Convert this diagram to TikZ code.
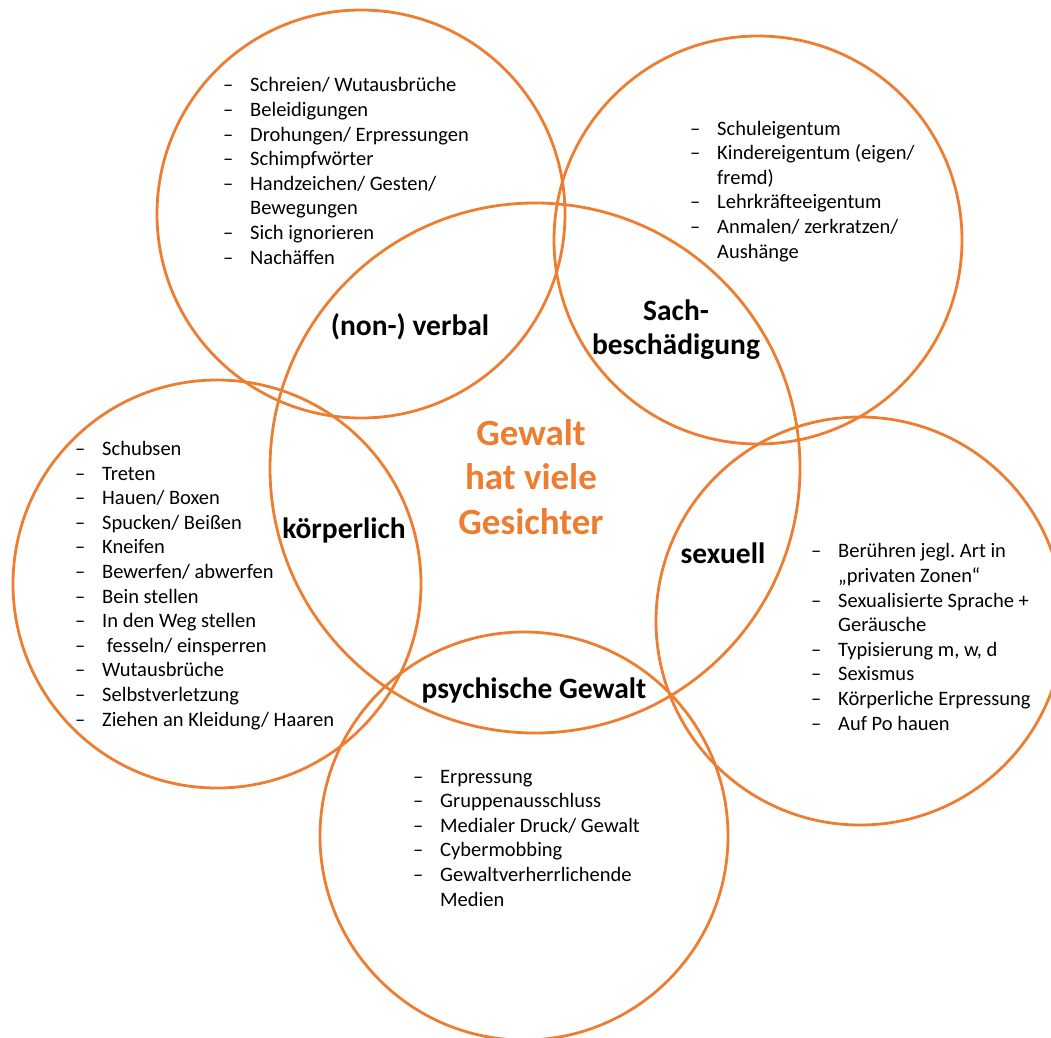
\documentclass[tikz,border=0pt]{standalone}
\usepackage{fontspec}
\setmainfont{Carlito}
\frenchspacing
\definecolor{gorange}{HTML}{ED7D31}
\newcommand{\itm}{\makebox[27pt][l]{–}}
\newcommand{\cnt}{\hspace*{27pt}}

\begin{document}
\begin{tikzpicture}[x=1pt, y=-1pt,
    ring/.style={draw=gorange, line width=2.8pt},
    facet/.style={font=\fontsize{29.5}{34}\selectfont\bfseries, align=center, inner sep=0pt},
    items/.style={font=\fontsize{20.5}{24.6}\selectfont, align=left, anchor=base west, inner sep=0pt},
    headline/.style={font=\fontsize{37}{44.5}\selectfont\bfseries, text=gorange, align=center, inner sep=0pt}]
  \useasboundingbox (0,0) rectangle (1051,1037);
  % circle centres
  \coordinate (mid) at (535,468);
  \coordinate (cverbal) at (361,214);
  \coordinate (csach) at (758,240);
  \coordinate (ckoerper) at (217,584);
  \coordinate (csex) at (860,621);
  \coordinate (cpsych) at (524,836);
  \draw[ring] (mid) circle[radius=265pt];
  \foreach \c in {cverbal,csach,ckoerper,csex,cpsych}
    \draw[ring] (\c) circle[radius=204pt];
  % labels
  \node[headline] (title) at (531,477) {Gewalt\\hat viele\\Gesichter};
  \node[facet] (verbal) at (410,327) {(non-) verbal};
  \node[facet] (sach) at (676,330) {Sach-\\beschädigung};
  \node[facet] (koerper) at (344,530) {körperlich};
  \node[facet] (sex) at (723,553) {sexuell};
  \node[facet] (psych) at (534,690) {psychische Gewalt};
  % lists (placed at the baseline of their last line)
  \node[items] (lverbal) at (223,264) {\itm Schreien/ Wutausbrüche\\\itm Beleidigungen\\\itm Drohungen/ Erpressungen\\\itm Schimpfwörter\\\itm Handzeichen/ Gesten/\\\cnt Bewegungen\\\itm Sich ignorieren\\\itm Nachäffen};
  \node[items] (lsach) at (690,258) {\itm Schuleigentum\\\itm Kindereigentum (eigen/\\\cnt fremd)\\\itm Lehrkräfteeigentum\\\itm Anmalen/ zerkratzen/\\\cnt Aushänge};
  \node[items] (lkoerper) at (75,726) {\itm Schubsen\\\itm Treten\\\itm Hauen/ Boxen\\\itm Spucken/ Beißen\\\itm Kneifen\\\itm Bewerfen/ abwerfen\\\itm Bein stellen\\\itm In den Weg stellen\\\itm\ fesseln/ einsperren\\\itm Wutausbrüche\\\itm Selbstverletzung\\\itm Ziehen an Kleidung/ Haaren};
  \node[items] (lsex) at (811,730) {\itm Berühren jegl. Art in\\\cnt „privaten Zonen“\\\itm Sexualisierte Sprache +\\\cnt Geräusche\\\itm Typisierung m, w, d\\\itm Sexismus\\\itm Körperliche Erpressung\\\itm Auf Po hauen};
  \node[items] (lpsych) at (413,906) {\itm Erpressung\\\itm Gruppenausschluss\\\itm Medialer Druck/ Gewalt\\\itm Cybermobbing\\\itm Gewaltverherrlichende\\\cnt Medien};
\end{tikzpicture}
\end{document}
